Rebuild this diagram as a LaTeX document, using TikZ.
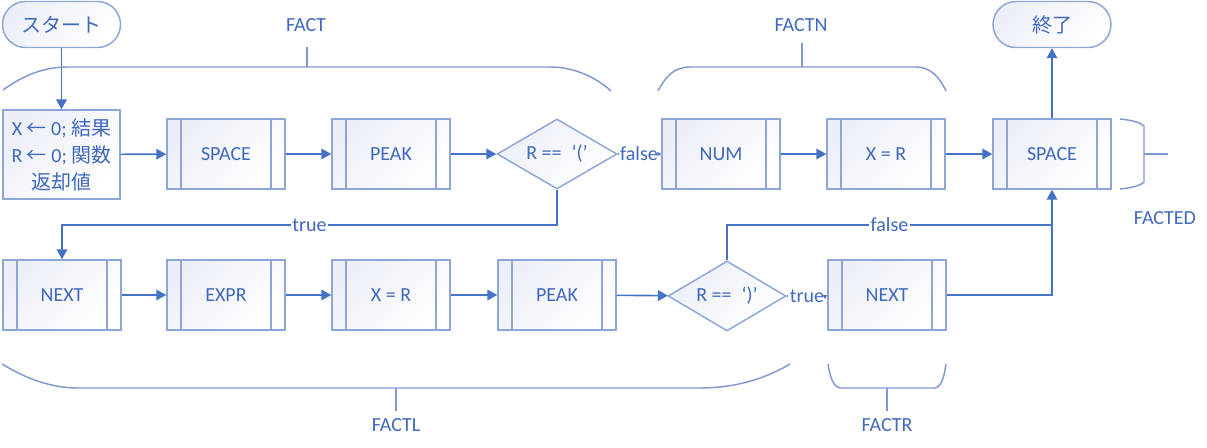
\documentclass[tikz,border=0pt]{standalone}
\usepackage{fontspec}
\setmainfont{Carlito}
\newfontfamily\jp{Noto Sans CJK JP}
\usetikzlibrary{arrows.meta,shapes.geometric}
\definecolor{lc}{HTML}{4472C4}
\definecolor{bc}{HTML}{8EA5D8}
\definecolor{brc}{HTML}{7F98D2}
\definecolor{tc}{HTML}{4068BD}
\definecolor{fc}{HTML}{ECEFF8}
\tikzset{
  base/.style={draw=bc, line width=1.1pt, text=tc, font=\fontsize{15}{20.25}\selectfont,
    top color=fc, bottom color=white, shading angle=45, inner sep=0pt, align=center},
  proc/.style={base, rectangle, minimum width=118*0.75pt, minimum height=70*0.75pt,
    path picture={
      \draw[draw=bc, line width=1.1pt] ([xshift=14*0.75pt]path picture bounding box.north west) -- ([xshift=14*0.75pt]path picture bounding box.south west);
      \draw[draw=bc, line width=1.1pt] ([xshift=-14*0.75pt]path picture bounding box.north east) -- ([xshift=-14*0.75pt]path picture bounding box.south east);}},
  plain/.style={base, rectangle, minimum width=117*0.75pt},
  term/.style={base, rectangle, rounded corners=23*0.75pt, minimum width=118*0.75pt, minimum height=46*0.75pt},
  dec/.style={base, diamond, minimum width=120*0.75pt, minimum height=70*0.75pt, aspect=1.7},
  conn/.style={draw=lc, line width=1.2pt, -{Triangle[length=7.5pt,width=8pt]}},
  line/.style={draw=lc, line width=1.2pt},
  small/.style={draw=lc, line width=1.2pt, -{Triangle[length=3pt,width=3pt]}},
  lbl/.style={text=tc, font=\fontsize{15}{18}\selectfont, inner sep=1pt},
  onl/.style={lbl, fill=white, inner sep=1pt},
  brace/.style={draw=brc, line width=1.1pt},
}
\begin{document}
\begin{tikzpicture}[x=0.75pt,y=-0.75pt]
\useasboundingbox (0,0) rectangle (1207,448);
% nodes row 1
\node[term] (start) at (61.5,24.5) {{\jp スタート}};
\node[plain, minimum height=89*0.75pt] (init) at (61.5,154.5) {X {\jp ←} 0; {\jp 結果}\\R {\jp ←} 0; {\jp 関数}\\{\jp 返却値}};
\node[proc] (sp1) at (226,154) {SPACE};
\node[proc] (pk1) at (391,154) {PEAK};
\node[dec] (d1) at (557,154) {R ==\enspace‘(’};
\node[lbl] (f1) at (639,154) {false};
\node[proc] (num) at (721,154) {NUM};
\node[proc] (xr1) at (886,154) {X = R};
\node[proc] (sp2) at (1052,154) {SPACE};
\node[term] (end) at (1052,24.5) {{\jp 終了}};
% row 2
\node[proc] (nx1) at (62,295) {NEXT};
\node[proc] (ex) at (226,295) {EXPR};
\node[proc] (xr2) at (391,295) {X = R};
\node[proc] (pk2) at (557,295) {PEAK};
\node[dec, minimum width=118*0.75pt] (d2) at (727,296) {R ==\enspace‘)’};
\node[lbl] (t2) at (807,296) {true};
\node[proc] (nx2) at (887,295) {NEXT};
% coordinates
\coordinate (a1) at (557,225);
\coordinate (a2) at (62,225);
\coordinate (b1) at (727,225);
\coordinate (b2) at (1052,225);
\coordinate (c1) at (1052,295);
% connectors
\draw[conn] (start) -- (init);
\draw[conn] (init) -- (sp1);
\draw[conn] (sp1) -- (pk1);
\draw[conn] (pk1) -- (d1);
\draw[line] (d1.east) -- (f1.west);
\draw[small] (f1.east) -- (num.west);
\draw[conn] (num) -- (xr1);
\draw[conn] (xr1) -- (sp2);
\draw[conn] (sp2) -- (end);
\draw[conn] (d1.south) -- (a1) -- node[onl] {true} (a2) -- (nx1.north);
\draw[conn] (nx1) -- (ex);
\draw[conn] (ex) -- (xr2);
\draw[conn] (xr2) -- (pk2);
\draw[conn] (pk2) -- (d2);
\draw[line] (d2.east) -- (t2.west);
\draw[small] (t2.east) -- (nx2.west);
\draw[line] (d2.north) -- (b1) -- node[onl] {false} (b2);
\draw[conn] (nx2.east) -- (c1) -- (sp2.south);
% braces
\draw[brace] (3,90) .. controls (20,78) and (40,67) .. (68,67) -- (550,67) .. controls (575,67) and (597,78) .. (611,91);
\node[lbl] (lfa) at (306,25) {FACT};
\draw[brace] (307,67) -- (307,47);
\draw[brace] (658,91) .. controls (665,78) and (673,67) .. (690,67) -- (916,67) .. controls (931,67) and (940,78) .. (946,91);
\node[lbl] (lfn) at (801,25) {FACTN};
\draw[brace] (802,67) -- (802,43);
\draw[brace] (2,364) .. controls (25,378) and (50,388) .. (78,388) -- (700,388) .. controls (740,388) and (770,376) .. (790,364);
\node[lbl] (lfl) at (396,425) {FACTL};
\draw[brace] (396,388) -- (396,411);
\draw[brace] (828,364) .. controls (830,378) and (834,388) .. (841,388) -- (934,388) .. controls (941,388) and (944,378) .. (946,364);
\node[lbl] (lfr) at (887,425) {FACTR};
\draw[brace] (887,388) -- (887,411);
\draw[brace] (1120,119) .. controls (1130,120) and (1140,122) .. (1144,126) -- (1144,182) .. controls (1140,186) and (1130,188) .. (1120,189);
\draw[brace] (1144,154) -- (1168,154);
\node[lbl] (lfe) at (1165,218) {FACTED};
\end{tikzpicture}
\end{document}
